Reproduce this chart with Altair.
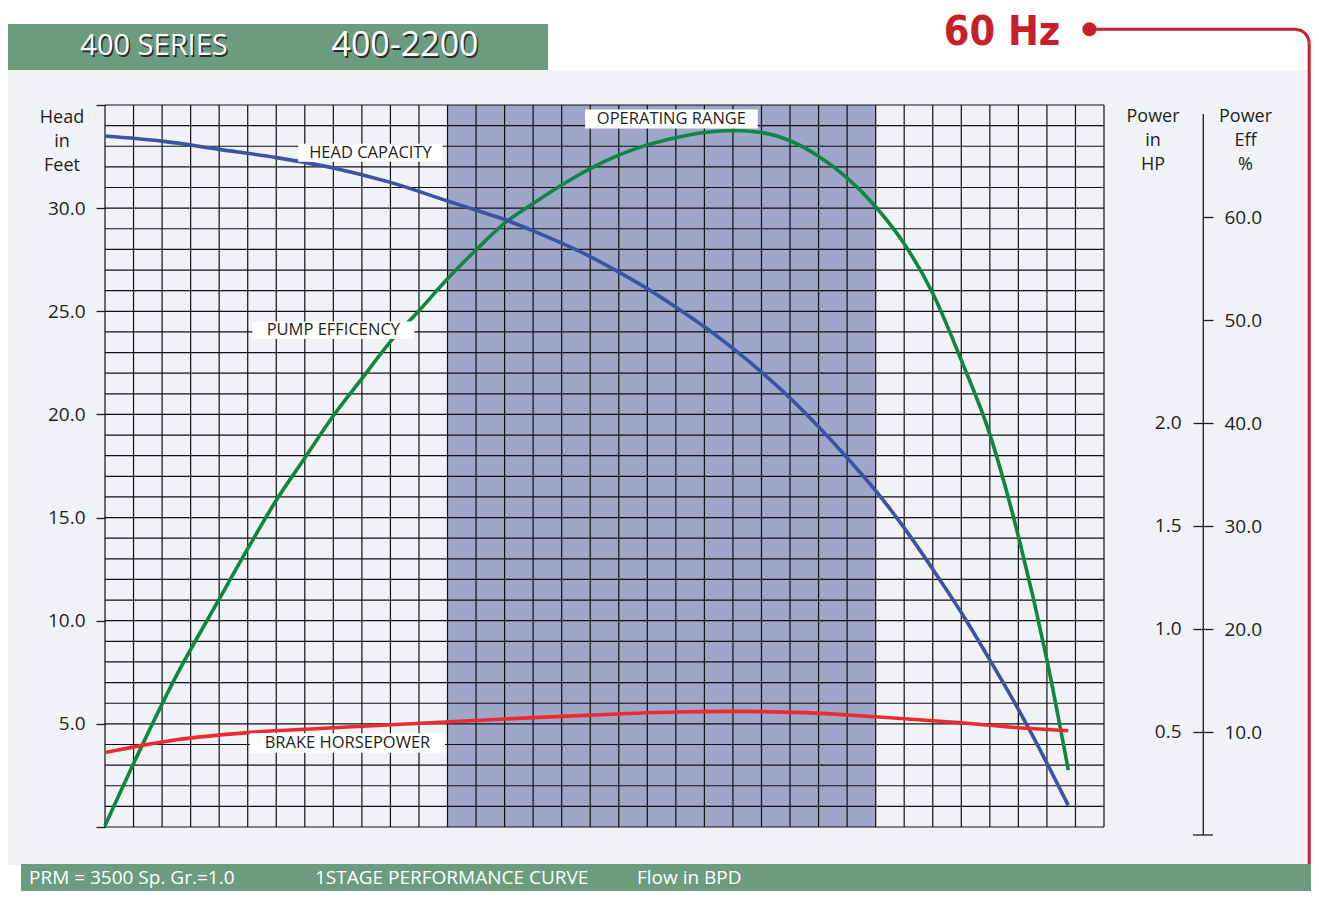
import altair as alt
import pandas as pd

# ---------------- data ----------------
flow_head = [0, 200, 400, 600, 800, 1000, 1200, 1300, 1400, 1500, 1600, 1700, 1800, 1900,
             2000, 2100, 2200, 2300, 2400, 2500, 2600, 2700, 2800, 2900, 3000, 3100, 3200,
             3300, 3375]
head_ft = [33.5, 33.25, 32.85, 32.45, 31.95, 31.25, 30.35, 29.9, 29.45, 28.9, 28.3, 27.65,
           26.9, 26.1, 25.2, 24.25, 23.2, 22.05, 20.8, 19.4, 17.9, 16.3, 14.5, 12.5, 10.4,
           8.1, 5.7, 3.1, 1.05]

flow_eff = [0, 130, 245, 400, 500, 600, 700, 800, 900, 1000, 1100, 1200, 1300, 1400,
            1500, 1600, 1700, 1800, 1900, 2000, 2100, 2200, 2300, 2400, 2500, 2600,
            2700, 2800, 2900, 3000, 3100, 3200, 3300, 3375]
eff_pct = [0.9, 8.7, 15.2, 22.9, 27.8, 32.5, 36.6, 40.7, 44.3, 47.9, 50.9, 54.0, 56.8, 59.4,
           61.3, 63.1, 64.7, 66.0, 67.0, 67.7, 68.2, 68.4, 68.2, 67.4, 65.9, 63.8,
           61.0, 57.4, 52.6, 46.1, 38.9, 29.0, 17.0, 6.3]

flow_bhp = [0, 130, 250, 500, 750, 1000, 1400, 1700, 2000, 2200, 2450, 2700, 3000, 3230, 3375]
bhp_hp = [0.40, 0.435, 0.462, 0.497, 0.517, 0.535, 0.563, 0.582, 0.597, 0.600, 0.594,
          0.574, 0.545, 0.518, 0.506]

op_range = [1200, 2700]
grid_x = list(range(0, 3501, 100))
grid_y = list(range(0, 36))
x_ticks = list(range(0, 3501, 500))
head_ticks = list(range(0, 36, 5))
eff_ticks = [10, 20, 30, 40, 50, 60]
hp_ticks = [0.5, 1.0, 1.5, 2.0]
eff_axis_ext = [0, 70]

ann_text = ["HEAD CAPACITY", "PUMP EFFICENCY", "OPERATING RANGE", "BRAKE HORSEPOWER"]
ann_x0 = [677, 516, 1682, 508]
ann_x1 = [1183, 1084, 2287, 1191]
ann_y0 = [32.25, 23.66, 33.86, 3.60]
ann_y1 = [33.12, 24.51, 34.78, 4.545]

# ---------------- style ----------------
FONT = "Open Sans"
TXT = "#231f20"
GREEN_BAR = "#6b9c7e"
PANEL = "#f0f2f6"
RED = "#c8202b"
BLUE = "#3a53a4"
GREEN = "#0e8742"
BRED = "#ee2a30"
OPC = "#9ea6c9"

W, H = 999, 722

xs = alt.Scale(domain=[0, 3500], nice=False, zero=False)
hs = alt.Scale(domain=[0, 35], nice=False, zero=False)
es = alt.Scale(domain=[0.777, 70.874], nice=False, zero=False)
ps = alt.Scale(domain=[0.0388, 3.5437], nice=False, zero=False)

one = pd.DataFrame({"k": [0]})


def box(x0, x1, y0, y1, color):
    return alt.Chart(one).mark_rect(color=color, strokeWidth=0).encode(
        x=alt.value(x0), x2=alt.value(x1), y=alt.value(y0), y2=alt.value(y1))


def label(txt, x, y, size, color=TXT, align="center", baseline="middle",
          font=FONT, weight="normal"):
    return alt.Chart(one).mark_text(
        text=txt, align=align, baseline=baseline, font=font, fontSize=size,
        color=color, fontWeight=weight).encode(x=alt.value(x), y=alt.value(y))


def hrule(x0, x1, y, color, w):
    return alt.Chart(one).mark_rule(color=color, strokeWidth=w, strokeCap="round").encode(
        x=alt.value(x0), x2=alt.value(x1), y=alt.value(y))


def vrule(x, y0, y1, color, w):
    return alt.Chart(one).mark_rule(color=color, strokeWidth=w, strokeCap="butt").encode(
        x=alt.value(x), y=alt.value(y0), y2=alt.value(y1))


layers = []
# panel & bars
layers.append(box(-97, 1206, -35, 760, PANEL))
layers.append(box(-97, 443, -81, -35, GREEN_BAR))
layers.append(box(-84, 1206, 759, 786, GREEN_BAR))
# header texts with shadow
layers.append(label("400 SERIES", 50.5, -57.5, 29, color="#2b2b2b"))
layers.append(label("400 SERIES", 49, -59, 29, color="white"))
layers.append(label("400-2200", 301.5, -57.5, 34, color="#2b2b2b"))
layers.append(label("400-2200", 300, -59, 34, color="white"))
# 60 Hz
layers.append(label("60 Hz", 897, -60, 41, color=RED, baseline="alphabetic",
                    font="Liberation Sans Narrow, Noto Sans ExtraCondensed, Noto Sans Condensed, DejaVu Sans Condensed, sans-serif",
                    weight="bold"))
layers.append(alt.Chart(one).mark_point(filled=True, size=200, color=RED, opacity=1).encode(
    x=alt.value(984.5), y=alt.value(-75.7)))
layers.append(hrule(984.5, 1190.5, -75.7, RED, 3))
layers.append(alt.Chart(one).mark_arc(radius=15.2, radius2=12.2, theta=0, theta2=1.5708,
                                      color=RED).encode(x=alt.value(1190.5), y=alt.value(-61.7)))
layers.append(vrule(1204.2, -61.7, 759, RED, 3))
# bottom bar texts
layers.append(label("PRM = 3500 Sp. Gr.=1.0", -76, 773, 19, color="white", align="left"))
layers.append(label("1STAGE PERFORMANCE CURVE", 210, 773, 19, color="white", align="left"))
layers.append(label("Flow in BPD", 532, 773, 19, color="white", align="left"))

# operating range
op_df = pd.DataFrame({"x0": [op_range[0]], "x1": [op_range[1]],
                      "y0": [head_ticks[0]], "y1": [head_ticks[-1]]})
layers.append(alt.Chart(op_df).mark_rect(color=OPC, strokeWidth=0).encode(
    x=alt.X("x0:Q", scale=xs, axis=None), x2="x1:Q",
    y=alt.Y("y0:Q", scale=hs, axis=None), y2="y1:Q"))

# grid
layers.append(alt.Chart(pd.DataFrame({"gx": grid_x})).mark_rule(
    color="#111111", strokeWidth=1.2).encode(x=alt.X("gx:Q", scale=xs, axis=None)))
layers.append(alt.Chart(pd.DataFrame({"gy": grid_y})).mark_rule(
    color="#111111", strokeWidth=1.2).encode(y=alt.Y("gy:Q", scale=hs, axis=None)))

# axis titles
for i, w in enumerate(["Head", "in", "Feet"]):
    layers.append(label(w, -43, 13 + 24 * i, 18))
for i, w in enumerate(["Power", "in", "HP"]):
    layers.append(label(w, 1048, 12 + 24 * i, 18))
for i, w in enumerate(["Power", "Eff", "%"]):
    layers.append(label(w, 1140.5, 12 + 24 * i, 18))

# right axis line & bottom tick (efficiency scale)
ext_df = pd.DataFrame({"lo": [eff_axis_ext[0]], "hi": [eff_axis_ext[1]]})
layers.append(alt.Chart(ext_df).mark_rule(color="#1c1c1c", strokeWidth=1.3).encode(
    x=alt.value(1098.3), y=alt.Y("lo:Q", scale=es, axis=None), y2="hi:Q"))
layers.append(alt.Chart(ext_df).mark_rule(color="#1c1c1c", strokeWidth=1.3).encode(
    x=alt.value(1088), x2=alt.value(1108), y=alt.Y("lo:Q", scale=es, axis=None)))

AX = dict(labelFont=FONT, labelFontSize=19, labelColor=TXT, tickColor="#1c1c1c",
          tickWidth=1.3, domain=False, grid=False, title=None, zindex=1)

# efficiency curve (with efficiency axis)
eff_df = pd.DataFrame({"flow": flow_eff, "eff": eff_pct})
layers.append(alt.Chart(eff_df).mark_line(color=GREEN, strokeWidth=3.6, interpolate="monotone").encode(
    x=alt.X("flow:Q", scale=xs, axis=None),
    y=alt.Y("eff:Q", scale=es, axis=alt.Axis(orient="right", offset=99, values=eff_ticks,
                                              format=".1f", tickSize=10, labelPadding=11, **AX))))

# head curve (with left & bottom axes)
head_df = pd.DataFrame({"flow": flow_head, "head": head_ft})
layers.append(alt.Chart(head_df).mark_line(color=BLUE, strokeWidth=3.6, interpolate="monotone").encode(
    x=alt.X("flow:Q", scale=xs, axis=alt.Axis(
        orient="bottom", values=x_ticks, tickSize=8, labelPadding=3,
        labelExpr="datum.value > 0 && datum.value < 3500 ? format(datum.value, 'd') : ''", **AX)),
    y=alt.Y("head:Q", scale=hs, axis=alt.Axis(
        orient="left", values=head_ticks, tickSize=9, labelPadding=11,
        labelExpr="datum.value > 0 && datum.value < 35 ? format(datum.value, '.1f') : ''", **AX))))

# brake horsepower curve (with HP axis)
bhp_df = pd.DataFrame({"flow": flow_bhp, "hp": bhp_hp})
layers.append(alt.Chart(bhp_df).mark_line(color=BRED, strokeWidth=3.6, interpolate="monotone").encode(
    x=alt.X("flow:Q", scale=xs, axis=None),
    y=alt.Y("hp:Q", scale=ps, axis=alt.Axis(orient="right", offset=89, values=hp_ticks,
                                             format=".1f", tickSize=10, labelPadding=-22,
                                             labelAlign="right", **AX))))

# annotations
ann_df = pd.DataFrame({"t": ann_text, "x0": ann_x0, "x1": ann_x1, "y0": ann_y0, "y1": ann_y1})
layers.append(alt.Chart(ann_df).mark_rect(color="white", strokeWidth=0).encode(
    x=alt.X("x0:Q", scale=xs, axis=None), x2="x1:Q",
    y=alt.Y("y0:Q", scale=hs, axis=None), y2="y1:Q"))
layers.append(alt.Chart(ann_df).transform_calculate(
    xc="(datum.x0 + datum.x1) / 2", yc="(datum.y0 + datum.y1) / 2"
).mark_text(font=FONT, fontSize=16.5, color=TXT, baseline="middle", align="center").encode(
    x=alt.X("xc:Q", scale=xs, axis=None),
    y=alt.Y("yc:Q", scale=hs, axis=None),
    text="t:N"))

chart = alt.layer(*layers).resolve_scale(y="independent").properties(
    width=W, height=H,
    autosize=alt.AutoSizeParams(type="none"),
    padding={"left": 97, "top": 97, "right": 207, "bottom": 64},
    background="white",
).configure_view(stroke=None)

chart.save("out.html", embed_options={"renderer": "svg", "actions": False})
